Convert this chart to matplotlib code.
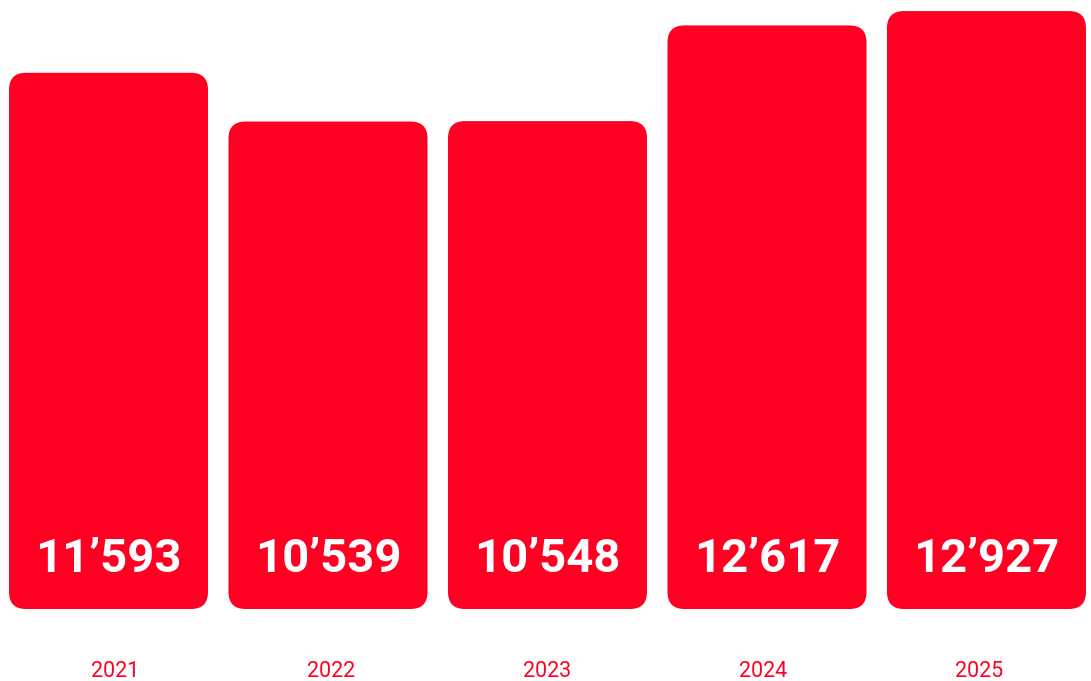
import matplotlib
matplotlib.use("Agg")
import matplotlib.pyplot as plt
from matplotlib.patches import FancyBboxPatch

years = ["2021", "2022", "2023", "2024", "2025"]
values = [11593, 10539, 10548, 12617, 12927]
labels = ["11’593", "10’539", "10’548", "12’617", "12’927"]

RED = "#FF0022"
W, H, DPI = 10.91, 6.81, 100
fig = plt.figure(figsize=(W, H), dpi=DPI)
ax = fig.add_axes([0, 72 / 681, 1, 609 / 681])
ax.set_axis_off()

step_px = 219.5
x0_px = 108.5
ax.set_xlim(-x0_px / step_px, (1091 - x0_px) / step_px)
ymax = 609 * 21.62
ax.set_ylim(0, ymax)

bar_w = 199 / step_px
r_px = 17
r = r_px / step_px
y_per_px = ymax / 609
x_per_px = 1 / step_px
aspect = y_per_px / x_per_px

# year labels sit on a slightly tighter pitch than the bars
year_off = (115 - x0_px) / step_px
year_step = 216 / step_px

for i, v in enumerate(values):
    p = FancyBboxPatch((i - bar_w / 2, 0), bar_w, v,
                       boxstyle=f"round,pad=0,rounding_size={r}",
                       mutation_aspect=aspect, facecolor=RED, edgecolor="none")
    ax.add_patch(p)
    ax.annotate(labels[i], xy=(i, 0), xytext=(0, 37 * 0.72), textcoords="offset points",
                ha="center", va="baseline", color="white", fontsize=34,
                fontweight="bold", family="Roboto")
    ax.annotate(years[i], xy=(year_off + i * year_step, 0), xytext=(0, -68 * 0.72),
                textcoords="offset points",
                ha="center", va="baseline", color=RED, fontsize=15.5,
                family="Roboto", annotation_clip=False)

fig.savefig("out.png", dpi=DPI)
